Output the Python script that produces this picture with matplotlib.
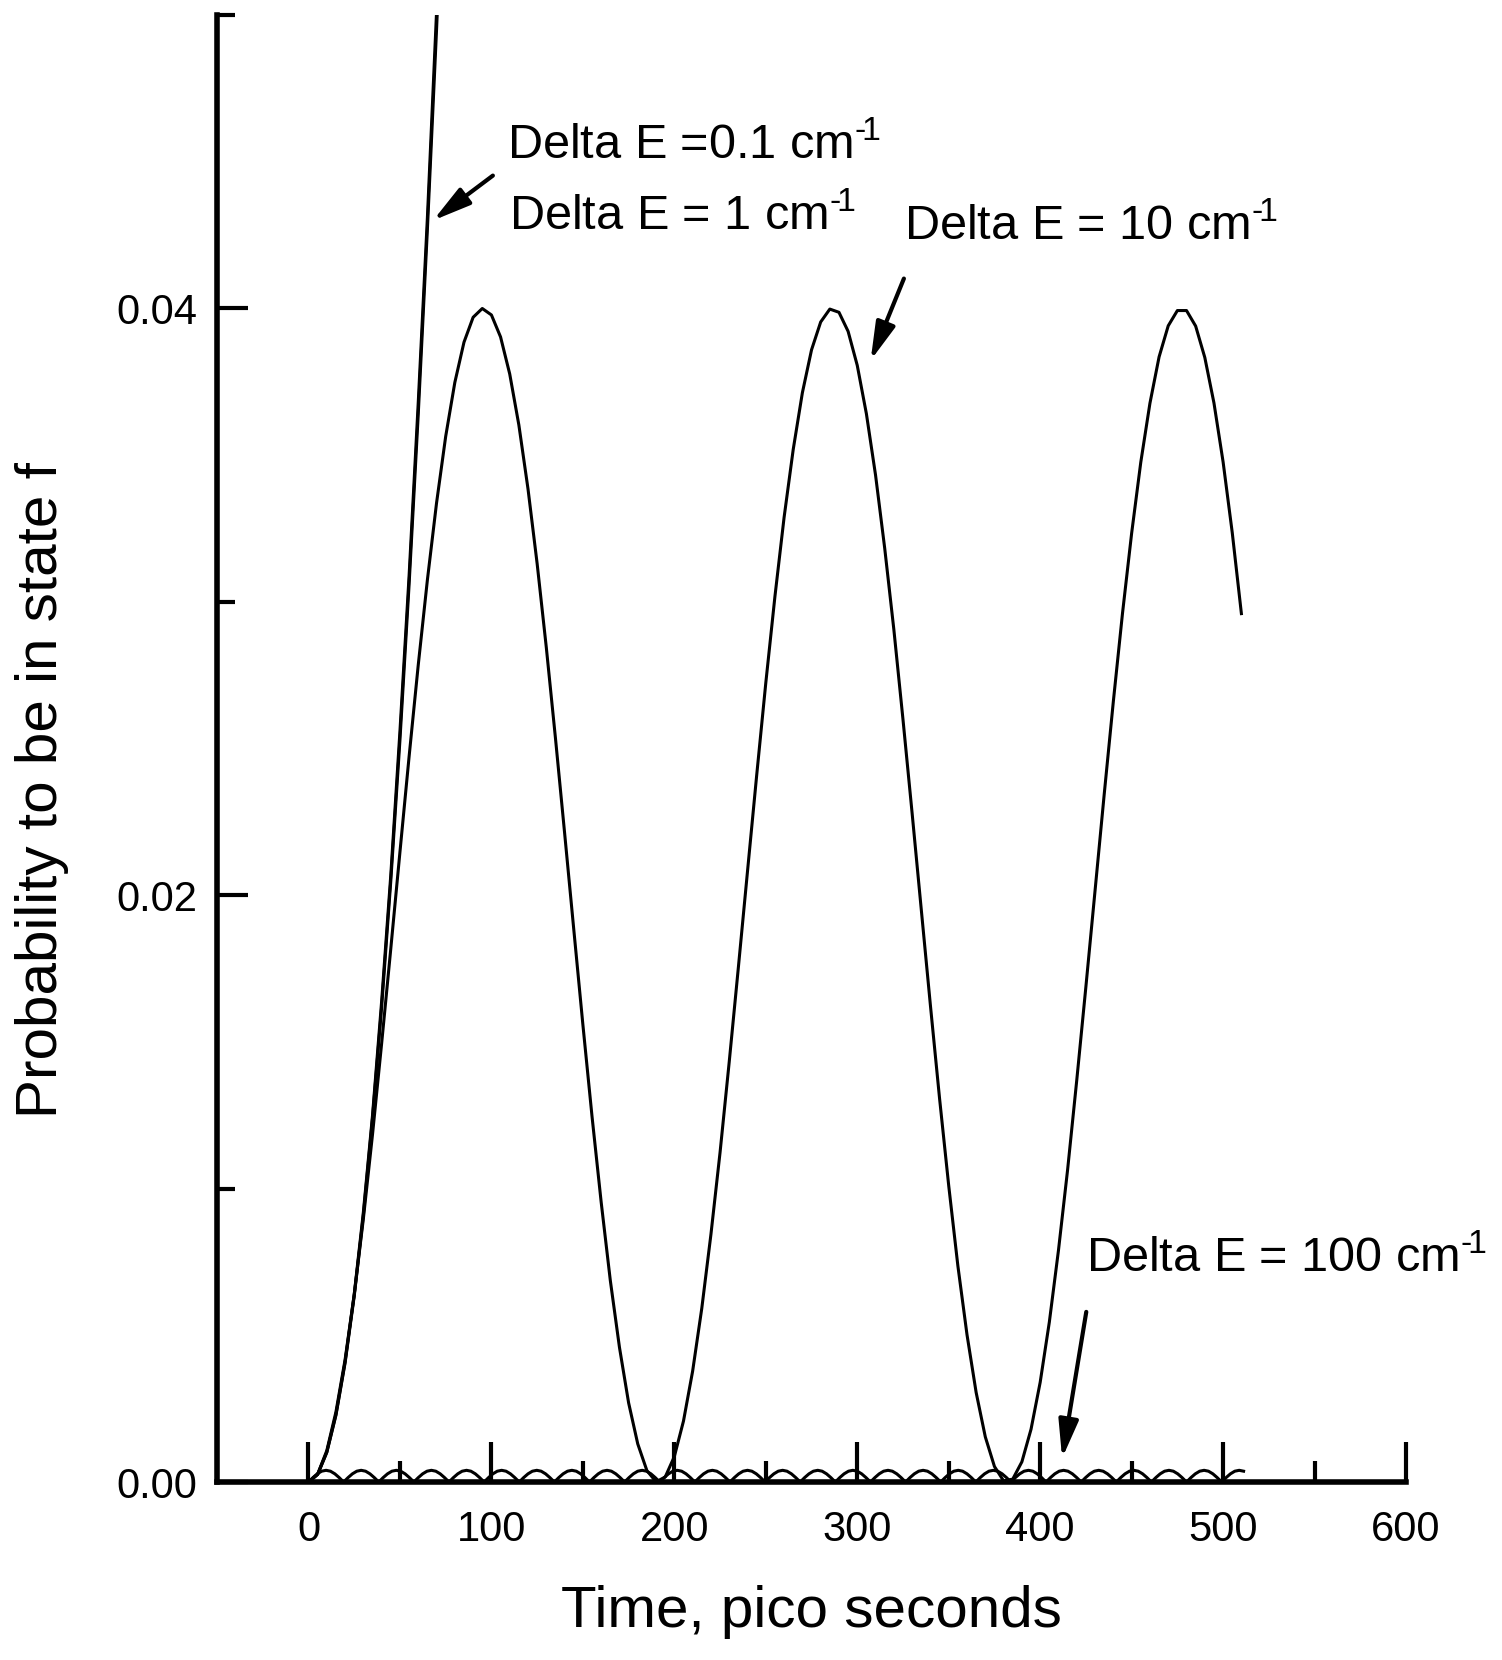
import numpy as np
import matplotlib.pyplot as plt

plt.rcParams['font.family'] = ['Liberation Sans', 'DejaVu Sans']
plt.rcParams['mathtext.fontset'] = 'custom'
plt.rcParams['mathtext.rm'] = 'Liberation Sans'
plt.rcParams['mathtext.it'] = 'Liberation Sans'

# Delta E = 0.1 and 1 cm-1 (steep rise, leaves the frame near 70 ps)
t_fast = np.arange(0, 76, 5)
p_fast_01 = [0, .00026, .00102, .0023, .0041, .0064, .0092, .0125, .0164, .0207,
             .0256, .0309, .0368, .0431, .0501, .0575]
p_fast_1 = [0, .00026, .00101, .00228, .00406, .00634, .0091, .0124, .0162, .0205,
            .0253, .0306, .0364, .0427, .0495, .0569]

# Delta E = 10 cm-1
t_10 = np.arange(0, 511, 5)
p_10 = [0, .00027, .00107, .00239, .00417, .00639, .00898, .01185, .01496, .01819,
        .02148, .02473, .02785, .03075, .03337, .03564, .03748, .03885, .03970, .04000,
        .03978, .03903, .03777, .03603, .03385, .03130, .02845, .02536, .02213, .01885,
        .01559, .01246, .00954, .00687, .00459, .00270, .00130, .00039, .00001, .00017,
        .00087, .00208, .00378, .00592, .00844, .01124, .01432, .01754, .02082, .02408,
        .02724, .03019, .03288, .03520, .03713, .03859, .03954, .03998, .03987, .03922,
        .03806, .03641, .03432, .03183, .02906, .02599, .02279, .01951, .01624, .01307,
        .01010, .00737, .00502, .00305, .00154, .00053, .00004, .00010, .00069, .00180,
        .00340, .00545, .00790, .01065, .01370, .01689, .02016, .02344, .02661, .02961,
        .03234, .03476, .03677, .03835, .03941, .03993, .03993, .03940, .03833, .03678,
        .03477, .03236, .02960]

# Delta E = 100 cm-1 (small humps along the baseline)
hump = [0, .00015, .00028, .00037, .0004, .00037, .00028, .00015]
p_100 = hump * 26 + [0, .00015, .00028, .00037, .0004, .00037]
t_100 = np.arange(len(p_100)) * 2.4

sup = '$^{\u2010\\!1}$'
labels = ['Delta E =0.1 cm' + sup, 'Delta E = 1 cm' + sup,
          'Delta E = 10 cm' + sup, 'Delta E = 100 cm' + sup]

fig = plt.figure(figsize=(15.02, 16.6), dpi=100)
ax = fig.add_axes([0.1445, 0.1072, 0.7916, 0.8837])

ax.plot(t_fast, p_fast_01, color='k', lw=2.2)
ax.plot(t_fast, p_fast_1, color='k', lw=2.2)
ax.plot(t_10, p_10, color='k', lw=2.2)
ax.plot(t_100, p_100, color='k', lw=2.2)

ax.set_xlim(-50, 600)
ax.set_ylim(0, 0.05)
ax.set_xticks(range(0, 601, 100))
ax.set_xticks(range(50, 600, 100), minor=True)
ax.set_yticks([0, 0.02, 0.04])
ax.set_yticklabels(['0.00', '0.02', '0.04'])
ax.set_yticks([0.01, 0.03, 0.05], minor=True)
ax.tick_params(axis='x', which='major', direction='in', length=29, width=3, labelsize=30, pad=20)
ax.tick_params(axis='x', which='minor', direction='in', length=15, width=3)
ax.tick_params(axis='y', which='major', direction='in', length=22, width=3, labelsize=30, pad=14)
ax.tick_params(axis='y', which='minor', direction='in', length=13, width=3)
for s in ['top', 'right']:
    ax.spines[s].set_visible(False)
for s in ['left', 'bottom']:
    ax.spines[s].set_linewidth(4)

fig.text(0.540, 1 - 1612 / 1660, 'Time, pico seconds', fontsize=42, ha='center', va='center')
fig.text(0.028, 0.524, 'Probability to be in state f', fontsize=42, rotation=90,
         ha='center', va='center')

ax.text(108.6, 0.04508, labels[0], fontsize=35, ha='left', va='baseline')
ax.text(109.7, 0.04266, labels[1], fontsize=35, ha='left', va='baseline')
ax.text(325.5, 0.04232, labels[2], fontsize=35, ha='left', va='baseline')
ax.text(425.2, 0.00715, labels[3], fontsize=35, ha='left', va='baseline')

arrow = dict(arrowstyle='-|>,head_length=1.15,head_width=0.3', lw=3, color='k',
             mutation_scale=20, shrinkA=0, shrinkB=0)
ax.annotate('', xy=(68.1, 0.0430), xytext=(100.8, 0.04453), arrowprops=arrow)
ax.annotate('', xy=(307.3, 0.03823), xytext=(325.5, 0.04102), arrowprops=arrow)
ax.annotate('', xy=(412, 0.00081), xytext=(425.2, 0.0058), arrowprops=arrow)

fig.savefig('out.png', dpi=100)
